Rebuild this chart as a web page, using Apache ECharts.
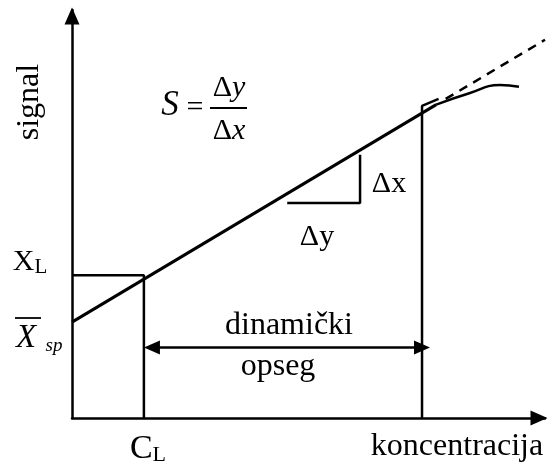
<!DOCTYPE html>
<html>
<head>
<meta charset="utf-8">
<script src="https://cdn.jsdelivr.net/npm/echarts@6/dist/echarts.min.js"></script>
<style>
html,body{margin:0;padding:0;background:#fff;}
#c{width:549px;height:462px;}
</style>
</head>
<body>
<div id="c"></div>
<script>
// ---- data (schematic units: concentration 0..100, signal 0..100) ----
var calibLine = [[0, 23.5], [77, 76.8]];
var curveBend = [[77, 76.8], [84, 79.6], [90.5, 81.6], [94.5, 81.2]];
var linearExtrap = [[79, 78.2], [100, 92.7]];
var blankRect = [[0, 35], [15.2, 35], [15.2, 0]];
var upperRect = [[74, 0], [74, 76.5], [77.5, 78.2]];
var slopeTriangle = [[45.5, 52.7], [60.9, 52.7], [60.9, 64.5]];
var rangeArrow = [[16.9, 17.3], [74, 17.3]];

var chart = echarts.init(document.getElementById('c'));
var serif = '"Liberation Serif","Times New Roman",serif';
var black = '#000';

function lineSeries(data, extra) {
  var s = {
    type: 'line', data: data, symbol: 'none', silent: true, clip: false,
    lineStyle: {color: black, width: 2.5}, animation: false
  };
  for (var k in extra) s[k] = extra[k];
  return s;
}

function txt(x, y, text, size, opts) {
  opts = opts || {};
  var o = {
    type: 'text', x: x, y: y, silent: true,
    style: {text: text, fontFamily: serif, fontSize: size, fontStyle: opts.italic ? 'italic' : 'normal',
      fill: black, align: opts.align || 'center', verticalAlign: 'middle'}
  };
  if (opts.rich) o.style.rich = opts.rich;
  if (opts.rotation) o.rotation = opts.rotation;
  return o;
}

var axisCommon = {
  type: 'value', min: 0, max: 100,
  axisLine: {show: true, lineStyle: {color: black, width: 2.5}, symbol: ['none', 'triangle'],
    symbolSize: [15, 17], symbolOffset: [0, -6]},
  axisTick: {show: false}, axisLabel: {show: false}, splitLine: {show: false}
};

var option = {
  animation: false,
  backgroundColor: '#fff',
  grid: {left: 72, right: 4, top: 10, bottom: 44},
  xAxis: axisCommon,
  yAxis: axisCommon,
  series: [
    lineSeries(blankRect),
    lineSeries(upperRect),
    lineSeries(calibLine, {lineStyle: {color: black, width: 3}}),
    lineSeries(curveBend, {smooth: true}),
    lineSeries(linearExtrap, {lineStyle: {color: black, width: 2.5, type: [9, 7]}}),
    lineSeries(slopeTriangle),
    {
      type: 'line', data: [], silent: true, animation: false,
      markLine: {
        silent: true, symbol: ['triangle', 'triangle'], symbolSize: [14, 16],
        label: {show: false},
        lineStyle: {color: black, width: 2.5, type: 'solid'},
        data: [[{coord: rangeArrow[0]}, {coord: rangeArrow[1]}]]
      }
    }
  ],
  graphic: [
    txt(30, 102, 'signal', 32, {rotation: Math.PI / 2}),
    txt(457, 447, 'koncentracija', 32),
    txt(148, 449, '{a|C}{s|L}', 34, {rich: {a: {fontSize: 34, fontFamily: serif}, s: {fontSize: 22, fontFamily: serif, padding: [12, 0, 0, 0]}}}),
    txt(30, 262, '{a|X}{s|L}', 30, {rich: {a: {fontSize: 30, fontFamily: serif}, s: {fontSize: 21, fontFamily: serif, padding: [11, 0, 0, 0]}}}),
    txt(26, 338, 'X', 33, {italic: true}),
    txt(54, 346, 'sp', 19, {italic: true}),
    {type: 'line', silent: true, shape: {x1: 15, y1: 318, x2: 41, y2: 318}, style: {stroke: black, lineWidth: 1.8}},
    txt(289, 326, 'dinamički', 32),
    txt(278, 367, 'opseg', 32),
    txt(389, 184, 'Δx', 30),
    txt(317, 237, 'Δy', 30),
    txt(170, 106, 'S', 35, {italic: true}),
    txt(195, 108, '=', 30),
    txt(229, 88, '{a|Δ}{b|y}', 30, {rich: {a: {fontSize: 30, fontFamily: serif}, b: {fontSize: 30, fontFamily: serif, fontStyle: 'italic'}}}),
    {type: 'line', silent: true, shape: {x1: 210, y1: 108, x2: 247, y2: 108}, style: {stroke: black, lineWidth: 1.8}},
    txt(229, 131, '{a|Δ}{b|x}', 30, {rich: {a: {fontSize: 30, fontFamily: serif}, b: {fontSize: 30, fontFamily: serif, fontStyle: 'italic'}}})
  ]
};
chart.setOption(option);
</script>
</body>
</html>
